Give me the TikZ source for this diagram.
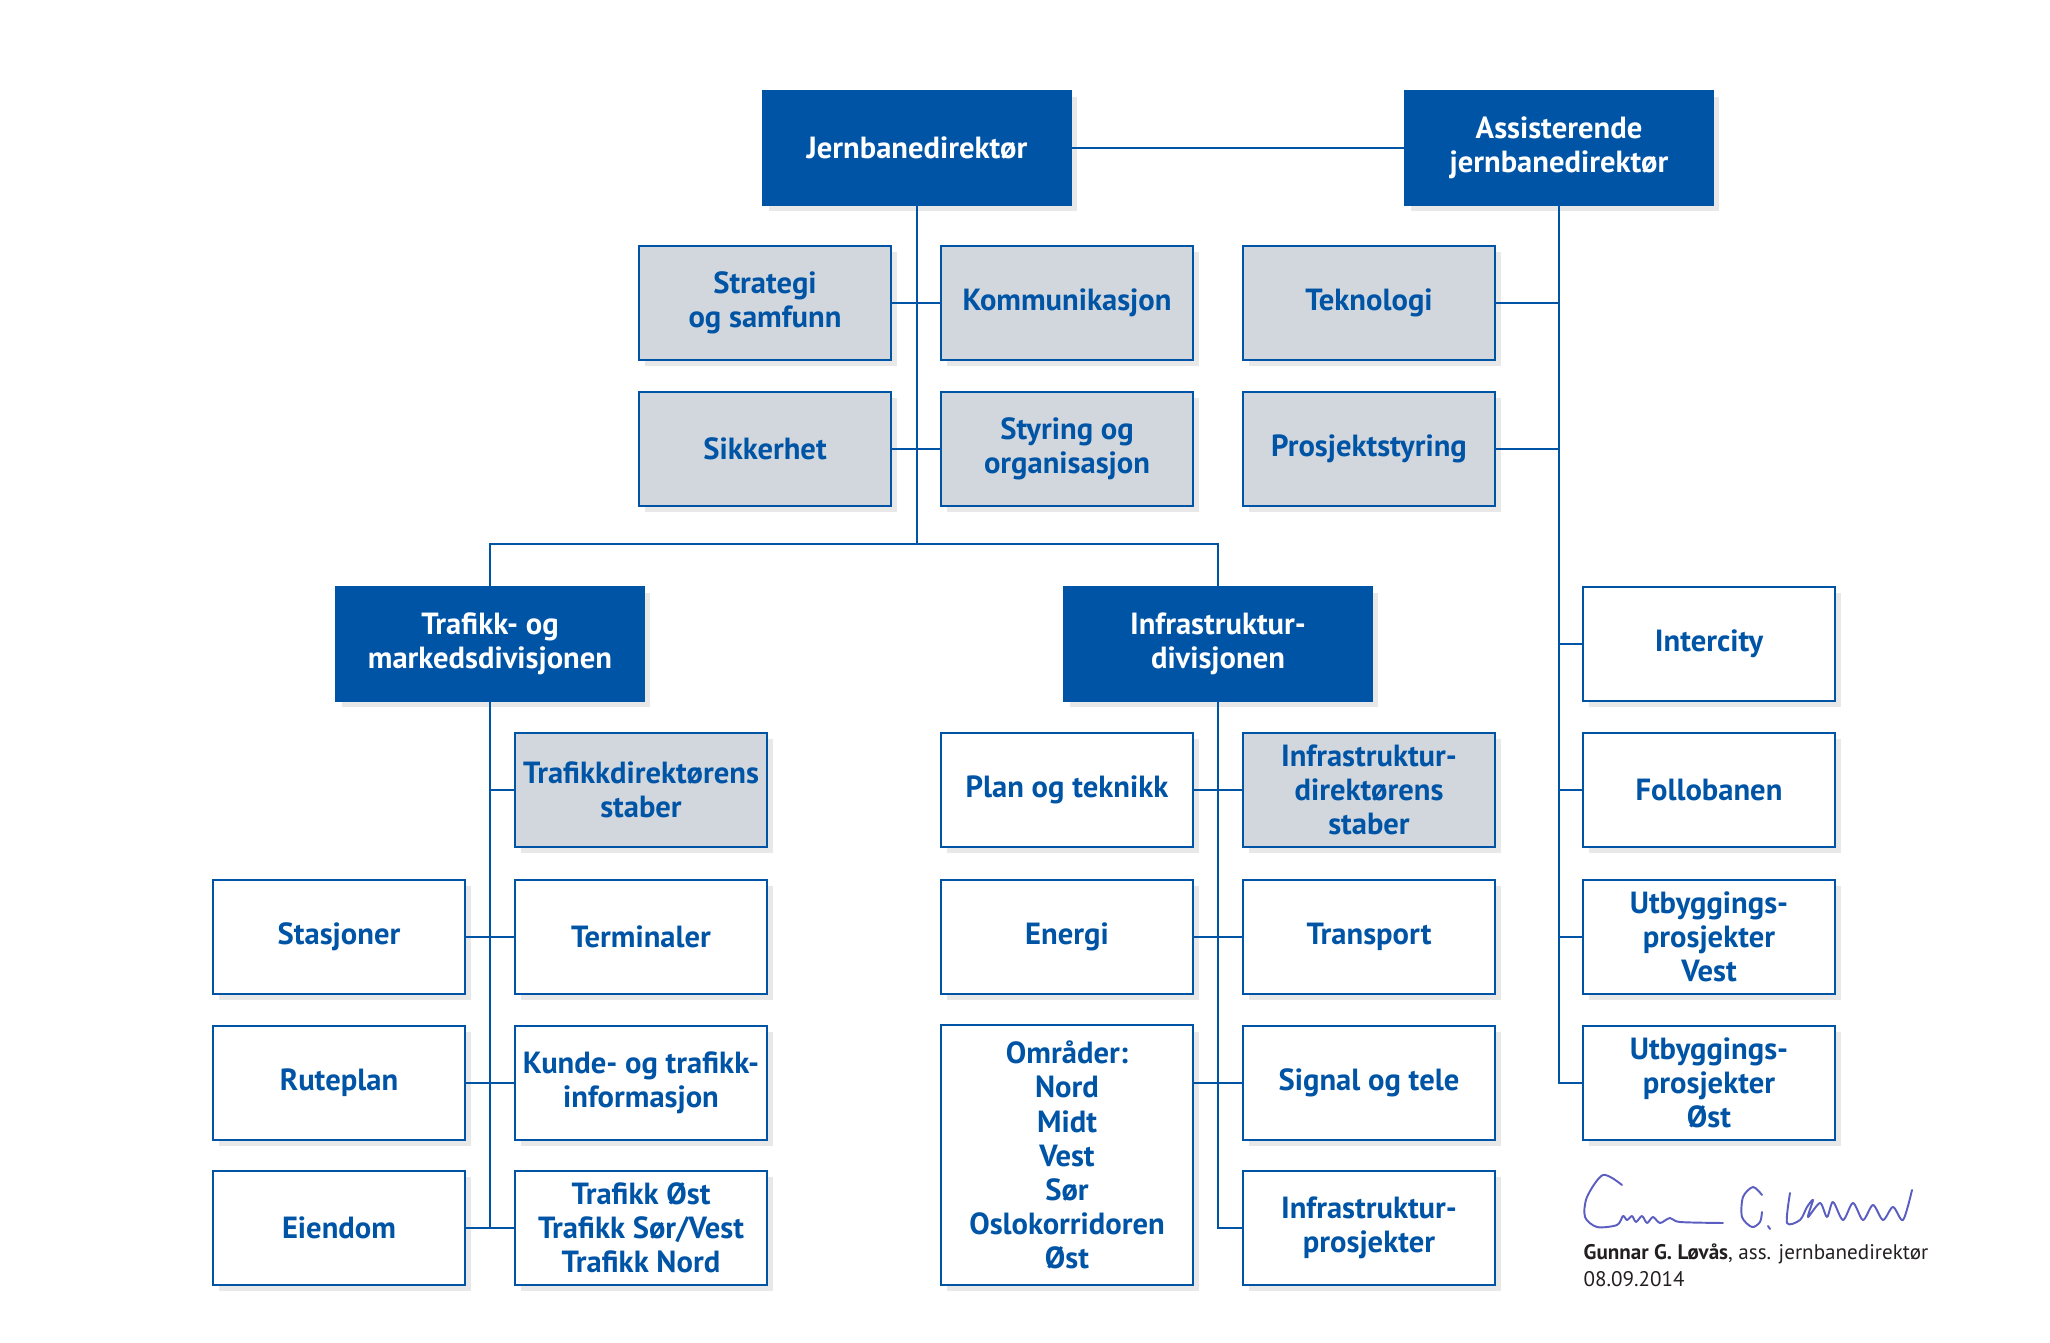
\documentclass[tikz,border=0pt]{standalone}
\usepackage{fontspec}
\setmainfont{PT Sans}
\usetikzlibrary{shadows}

\definecolor{jbvblue}{HTML}{0054A6}
\definecolor{jbvgrey}{HTML}{D1D7DD}
\definecolor{inkblue}{HTML}{5B5EC0}
\definecolor{signtext}{HTML}{231F20}

\tikzset{
  orgbox/.style={draw=jbvblue, line width=0.6pt, minimum width=2.52cm,
    minimum height=1.14cm, inner sep=0pt, align=center, text=jbvblue,
    font=\fontsize{8.7pt}{9.7pt}\selectfont\bfseries,
    drop shadow={opacity=0.18, shadow xshift=1.8pt, shadow yshift=-1.8pt}},
  head/.style={orgbox, fill=jbvblue, text=white, minimum width=3.08cm},
  staff/.style={orgbox, fill=jbvgrey},
  unit/.style={orgbox, fill=white},
  link/.style={draw=jbvblue, line width=0.6pt},
}

\begin{document}
\begin{tikzpicture}[x=0.01cm, y=-0.01cm]
  \useasboundingbox (0,0) rectangle (2050,1343);
  % top management
  \node[head] (jbd) at (917,148) {Jernbanedirektør};
  \node[head] (asd) at (1559,148) {Assisterende\\jernbanedirektør};
  \node[staff] (strat) at (765,303) {Strategi\\og samfunn};
  \node[staff] (komm) at (1067,303) {Kommunikasjon};
  \node[staff] (tek) at (1369,303) {Teknologi};
  \node[staff] (sikk) at (765,449) {Sikkerhet};
  \node[staff] (styr) at (1067,449) {Styring og\\organisasjon};
  \node[staff] (prosj) at (1369,449) {Prosjektstyring};
  % divisions
  \node[head] (tmd) at (490,644) {Trafikk- og\\markedsdivisjonen};
  \node[head] (ifd) at (1218,644) {Infrastruktur-\\divisjonen};
  \coordinate (split) at (917,544);
  % traffic and market
  \node[staff] (tds) at (641,790) {Trafikkdirektørens\\staber};
  \node[unit] (stas) at (339,937) {Stasjoner};
  \node[unit] (term) at (641,937) {Terminaler};
  \node[unit] (rute) at (339,1083) {Ruteplan};
  \node[unit] (kunde) at (641,1083) {Kunde- og trafikk-\\informasjon};
  \node[unit] (eiend) at (339,1228) {Eiendom};
  \node[unit] (trost) at (641,1228) {Trafikk Øst\\Trafikk Sør/Vest\\Trafikk Nord};
  % infrastructure
  \node[unit] (plan) at (1067,790) {Plan og teknikk};
  \node[staff] (ids) at (1369,790) {Infrastruktur-\\direktørens\\staber};
  \node[unit] (energi) at (1067,937) {Energi};
  \node[unit] (transp) at (1369,937) {Transport};
  \node[unit, minimum height=2.59cm] (omr) at (1067,1155) {Områder:\\Nord\\Midt\\Vest\\Sør\\Oslokorridoren\\Øst};
  \node[unit] (signal) at (1369,1083) {Signal og tele};
  \node[unit] (ifp) at (1369,1228) {Infrastruktur-\\prosjekter};
  % projects
  \node[unit] (ic) at (1709,644) {Intercity};
  \node[unit] (follo) at (1709,790) {Follobanen};
  \node[unit] (ubv) at (1709,937) {Utbyggings-\\prosjekter\\Vest};
  \node[unit] (ubo) at (1709,1083) {Utbyggings-\\prosjekter\\Øst};

  % connectors
  \draw[link] (jbd.east) -- (asd.west);
  \draw[link] (jbd.south) -- (split);
  \draw[link] (strat.east) -- (komm.west);
  \draw[link] (sikk.east) -- (styr.west);
  \draw[link] (tmd.north) -- (tmd.north |- split) -- (ifd.north |- split) -- (ifd.north);
  \draw[link] (asd.south) -- (asd.south |- ubo.west) -- (ubo.west);
  \draw[link] (tek.east) -- (asd.south |- tek.east);
  \draw[link] (prosj.east) -- (asd.south |- prosj.east);
  \draw[link] (asd.south |- ic.west) -- (ic.west);
  \draw[link] (asd.south |- follo.west) -- (follo.west);
  \draw[link] (asd.south |- ubv.west) -- (ubv.west);
  \draw[link] (tmd.south) -- (tmd.south |- eiend.east);
  \draw[link] (tmd.south |- tds.west) -- (tds.west);
  \draw[link] (stas.east) -- (term.west);
  \draw[link] (rute.east) -- (kunde.west);
  \draw[link] (eiend.east) -- (trost.west);
  \draw[link] (ifd.south) -- (ifd.south |- ifp.west) -- (ifp.west);
  \draw[link] (plan.east) -- (ids.west);
  \draw[link] (energi.east) -- (transp.west);
  \draw[link] (omr.east |- signal.west) -- (signal.west);

  % signature
  \begin{scope}[inkblue, line width=0.55pt, line cap=round, line join=round]
    \draw plot[smooth] coordinates {(1622,1185) (1603,1175) (1587,1197) (1585,1217)
      (1597,1227) (1617,1225) (1623,1216) (1627,1220) (1632,1216) (1636,1222)
      (1642,1216) (1647,1223) (1653,1217) (1660,1223) (1670,1218) (1680,1222) (1723,1223)};
    \draw plot[smooth] coordinates {(1762,1195) (1753,1187) (1743,1197) (1742,1217)
      (1752,1227) (1760,1222) (1762,1212)};
    \draw plot[smooth] coordinates {(1768,1226) (1770,1229)};
    \draw plot[smooth] coordinates {(1790,1193) (1787,1223) (1800,1220) (1807,1207)
      (1813,1200) (1808,1217) (1820,1203) (1827,1217) (1833,1202) (1843,1220)
      (1853,1203) (1863,1220) (1873,1205) (1883,1220) (1893,1207) (1903,1220) (1912,1190)};
  \end{scope}
  \node[anchor=base west, inner sep=0pt, text=signtext, font=\fontsize{6pt}{7pt}\selectfont]
    (signame) at (1583,1260) {\textbf{Gunnar G. Løvås}, ass. jernbanedirektør};
  \node[anchor=base west, inner sep=0pt, text=signtext, font=\fontsize{6pt}{7pt}\selectfont]
    (sigdate) at (1583,1286) {08.09.2014};
\end{tikzpicture}
\end{document}
